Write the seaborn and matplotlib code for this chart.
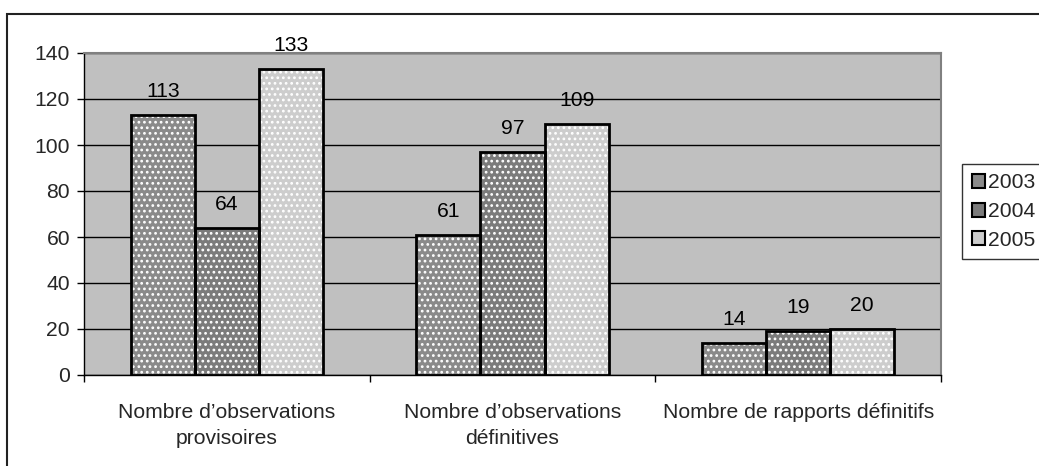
import matplotlib
matplotlib.use("Agg")
import matplotlib.pyplot as plt
from matplotlib.patches import Patch, Rectangle
import seaborn as sns
import pandas as pd

# Data
categories = ["Nombre d’observations\nprovisoires",
              "Nombre d’observations\ndéfinitives",
              "Nombre de rapports définitifs"]
years = ["2003", "2004", "2005"]
values_2003 = [113, 61, 14]
values_2004 = [64, 97, 19]
values_2005 = [133, 109, 20]

year_colors = ["#8a8a8a", "#7b7b7b", "#cdcdcd"]

df = pd.DataFrame({
    "categorie": categories * 3,
    "annee": [y for y in years for _ in categories],
    "valeur": values_2003 + values_2004 + values_2005,
})

sns.set_style("white")
plt.rcParams["font.family"] = ["Liberation Sans", "DejaVu Sans"]
plt.rcParams["hatch.linewidth"] = 1.2

FS = 15.2
W, H = 1039, 466
fig = plt.figure(figsize=(W / 100, H / 100), dpi=100)
ax = fig.add_axes([84 / W, 1 - 375 / H, (941 - 84) / W, (375 - 53) / H])
ax.set_facecolor("#c0c0c0")

# dotted fills
sns.barplot(data=df, x="categorie", y="valeur", hue="annee",
            order=categories, hue_order=years, palette=year_colors,
            width=0.673, gap=0, saturation=1, linewidth=0, edgecolor="white",
            hatch="...", legend=False, ax=ax, zorder=3)
fill_containers = list(ax.containers)

# black outlines
sns.barplot(data=df, x="categorie", y="valeur", hue="annee",
            order=categories, hue_order=years, palette=["black"] * 3,
            width=0.673, gap=0, fill=False, linewidth=2, saturation=1,
            legend=False, ax=ax, zorder=4)

for cont in fill_containers:
    ax.bar_label(cont, padding=10, fontsize=FS, color="black")

ax.set_ylim(0, 140)
ax.set_xlim(-0.5, 2.5)
ax.set_yticks(range(0, 141, 20))
ax.yaxis.grid(True, color="black", linewidth=1)
ax.set_axisbelow(True)
ax.tick_params(axis="y", labelsize=FS, length=5, width=1, color="black",
               direction="out", left=True, pad=5)

# category boundaries as ticks, names centred between them
ax.set_xticks([-0.5, 0.5, 1.5, 2.5])
ax.set_xticklabels([])
ax.set_xticks([0, 1, 2], minor=True)
ax.set_xticklabels(categories, minor=True, fontsize=FS, linespacing=1.45)
ax.tick_params(axis="x", which="major", length=5, width=1, color="black",
               direction="out", bottom=True)
ax.tick_params(axis="x", which="minor", length=0, pad=20)
ax.set_xlabel("")
ax.set_ylabel("")

for side in ["top", "right"]:
    ax.spines[side].set_color("#808080")
    ax.spines[side].set_linewidth(1.5)
for side in ["left", "bottom"]:
    ax.spines[side].set_color("black")
    ax.spines[side].set_linewidth(1)

handles = [Patch(facecolor=c, edgecolor="black", linewidth=1.5) for c in year_colors]
leg = fig.legend(handles, years, loc="upper left",
                 bbox_to_anchor=(962 / W, 1 - 164 / H),
                 fontsize=FS, frameon=True, fancybox=False,
                 handlelength=0.65, handleheight=0.65, handletextpad=0.15,
                 labelspacing=0.45, borderpad=0.45, borderaxespad=0)
leg.get_frame().set_edgecolor("black")
leg.get_frame().set_linewidth(1)

# outer chart frame
fig.patches.append(Rectangle((7 / W, -0.2), 1.2, 1 - 14 / H + 0.2,
                             transform=fig.transFigure, fill=False,
                             edgecolor="#222222", linewidth=1.5, zorder=0))

fig.savefig("out.png", dpi=100)
